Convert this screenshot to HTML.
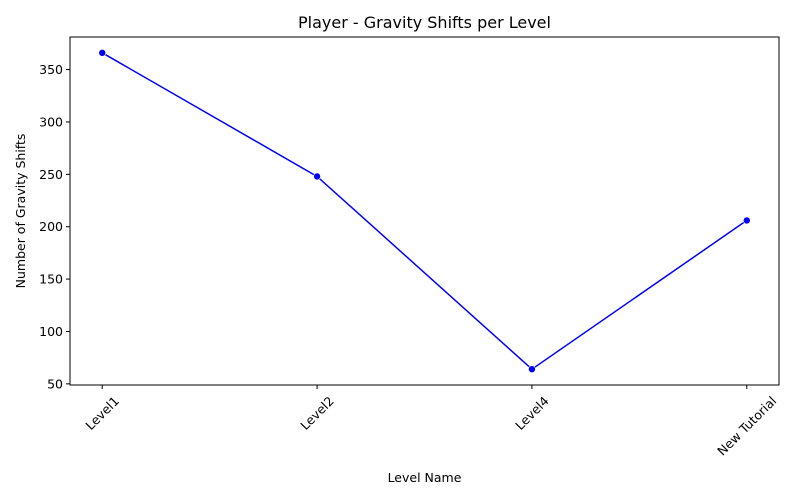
<!DOCTYPE html>
<html><head><meta charset="utf-8">
<style>
html,body{margin:0;padding:0;background:#fff;}
svg{display:block;font-family:"DejaVu Sans","Liberation Sans",sans-serif;}
</style></head>
<body>
<svg id="chart" width="800" height="500" xmlns="http://www.w3.org/2000/svg">
<text x="424.5" y="28" text-anchor="middle" font-size="16">Player - Gravity Shifts per Level</text>
<text x="424.5" y="482" text-anchor="middle" font-size="12.5">Level Name</text>
<text transform="translate(25,211) rotate(-90)" text-anchor="middle" font-size="12.5">Number of Gravity Shifts</text>
<g id="plot"></g>
<rect x="70" y="37" width="709" height="348" fill="none" stroke="#000" stroke-width="1"/>
</svg>
<script>
const categories = ["Level1","Level2","Level4","New Tutorial"];
const values = [366,248,64,206];
const yTicks = [50,100,150,200,250,300,350];

const L=70,R=779,T=37,B=385;
const vmin=Math.min(...values), vmax=Math.max(...values), pad=(vmax-vmin)*0.05;
const y0=vmin-pad, y1=vmax+pad;
const xs=i=>L+(i+0.15)/(categories.length-1+0.3)*(R-L);
const ys=v=>B-(v-y0)/(y1-y0)*(B-T);
const NS="http://www.w3.org/2000/svg";
const g=document.getElementById('plot');
function mk(tag,attrs){const e=document.createElementNS(NS,tag);for(const k in attrs)e.setAttribute(k,attrs[k]);g.appendChild(e);return e;}

yTicks.forEach(t=>{
  const y=ys(t);
  const tk=mk('line',{x1:L-4,x2:L,y1:y,y2:y,stroke:'#000'});
  
  
  const tx=mk('text',{x:L-7,y:y+4.5,'text-anchor':'end','font-size':12.5});
  tx.textContent=t;
  
  
});
categories.forEach((c,i)=>{
  const x=xs(i);
  const tk=mk('line',{x1:x,x2:x,y1:B,y2:B+4,stroke:'#000'});
  
  
  const tx=mk('text',{x:0,y:4.5,'text-anchor':'middle','font-size':12.5});
  tx.textContent=c;
  
  
  const w=tx.getComputedTextLength();
  const h=13;
  const half=(w+h)*Math.SQRT1_2/2;
  tx.setAttribute('transform',`translate(${x},${B+9+half}) rotate(-45)`);
});
const line=mk('polyline',{points:values.map((v,i)=>xs(i)+','+ys(v)).join(' '),fill:'none',stroke:'#0000ff','stroke-width':1.5});


values.forEach((v,i)=>{
  const p=mk('circle',{cx:xs(i),cy:ys(v),r:3.5,fill:'#0000ff',stroke:'#fff','stroke-width':0.6});
  
  
});
</script>
</body></html>
